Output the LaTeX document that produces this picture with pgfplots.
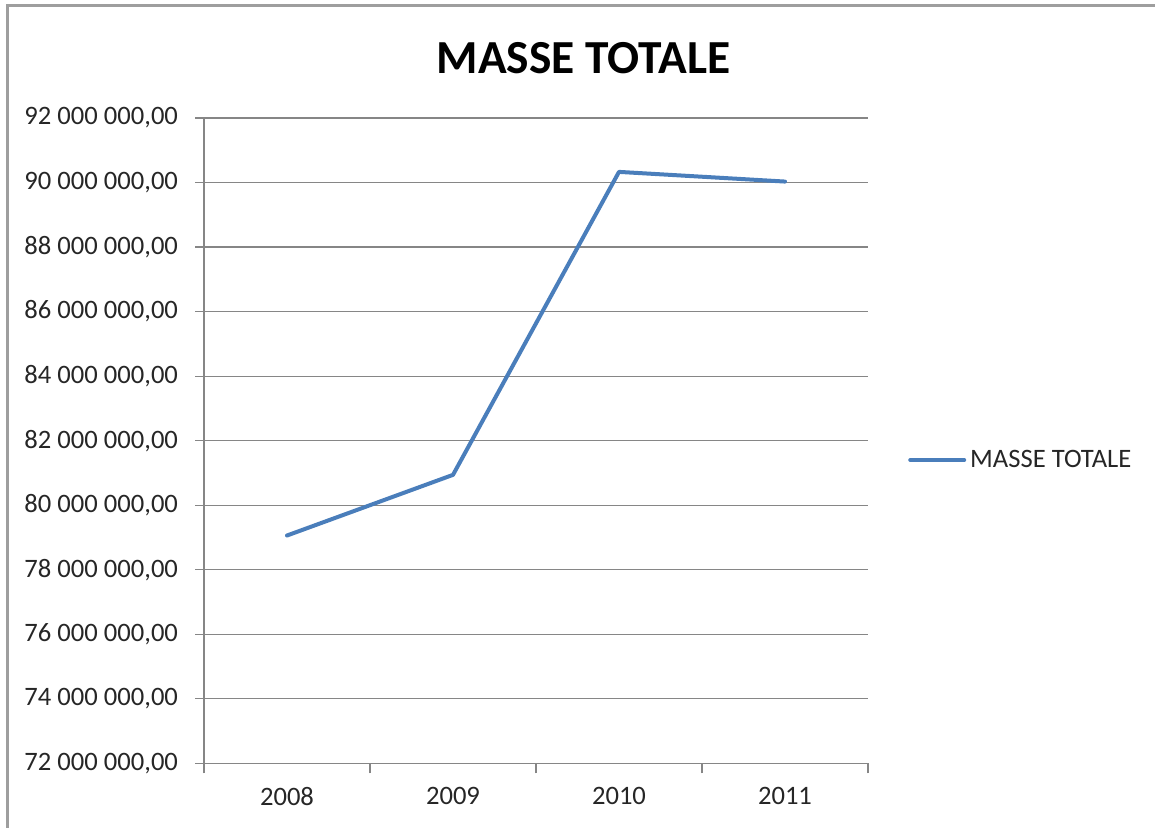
\documentclass[border=0pt]{standalone}
\usepackage{pgfplots}
\pgfplotsset{compat=1.18}
\usepackage{fontspec}
\setmainfont{Carlito}
\definecolor{gridgray}{RGB}{134,134,134}
\definecolor{lineblue}{RGB}{74,126,187}
\begin{document}
\begin{tikzpicture}
\path[use as bounding box] (0,0) rectangle (577.5pt,-414pt);
\draw[gridgray!80, line width=1.5pt] (3.5pt,-414pt) -- (3.5pt,-3pt) -- (577.5pt,-3pt);
\node[font=\bfseries\fontsize{23.7}{28}\selectfont, anchor=base] at (291.75pt,-37pt) {MASSE TOTALE};
\begin{axis}[
  scale only axis,
  width=332pt, height=322.65pt,
  at={(102pt,-381.65pt)}, anchor=south west,
  xmin=-0.5, xmax=3.5,
  ymin=72000000, ymax=92000000,
  scaled y ticks=false,
  xtick={0,1,2,3},
  xticklabels={2008,2009,2010,2011},
  minor xtick={-0.5,0.5,1.5,2.5,3.5},
  major x tick style={draw=none},
  ytick={72000000,74000000,76000000,78000000,80000000,82000000,84000000,86000000,88000000,90000000,92000000},
  yticklabels={72 000 000{,}00,74 000 000{,}00,76 000 000{,}00,78 000 000{,}00,80 000 000{,}00,82 000 000{,}00,84 000 000{,}00,86 000 000{,}00,88 000 000{,}00,90 000 000{,}00,92 000 000{,}00},
  tick align=outside,
  major tick length=4.5pt,
  minor tick length=5pt,
  ymajorgrids,
  grid style={gridgray, line width=0.6pt},
  axis x line*=bottom,
  axis y line*=left,
  axis line style={gridgray, line width=0.6pt, -},
  tick style={gridgray, line width=0.6pt},
  minor tick style={gridgray, line width=0.6pt},
  ticklabel style={font=\fontsize{13.3}{16}\selectfont, text=black!85},
  yticklabel style={xshift=-5pt},
  xticklabel style={yshift=-4pt},
  legend style={at={(1.06,0.47)}, anchor=west, draw=none, fill=none,
    font=\fontsize{13.3}{16}\selectfont, inner sep=0pt, text=black!85},
  legend cell align=left,
  legend image code/.code={\draw[#1, line width=2pt, line cap=round] (0pt,0pt) -- (27pt,0pt);},
]
\addplot[lineblue, line width=2pt, line join=round, line cap=round] coordinates {
  (0,79060000) (1,80940000) (2,90330000) (3,90030000)
};
\addlegendentry{MASSE TOTALE}
\end{axis}
\end{tikzpicture}
\end{document}
